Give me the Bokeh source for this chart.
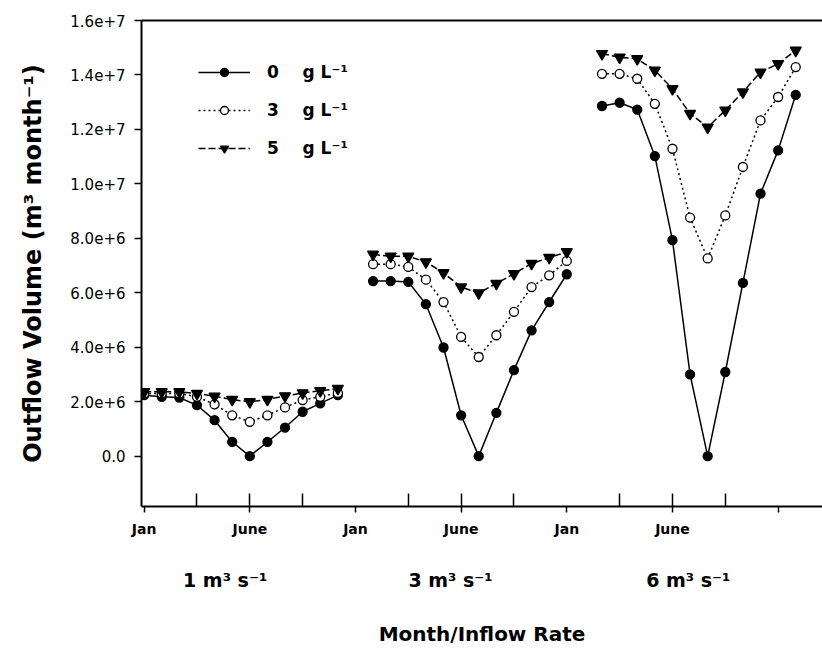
from bokeh.plotting import figure
from bokeh.models import LinearAxis, FixedTicker, Range1d, Legend, LegendItem
from bokeh.embed import file_html
from bokeh.resources import INLINE

# ---- data ----
months = list(range(12))
group_start = [0, 13, 26]
group_names = ["1 m³ s⁻¹", "3 m³ s⁻¹", "6 m³ s⁻¹"]
group_label_x = [4.6, 17.4, 30.9]

month_ticks = [0, 6, 12, 18, 24, 30, 36]
month_labels = ["Jan", "June", "Jan", "June", "Jan", "June", ""]
minor_ticks = [3, 6, 9, 15, 18, 21, 27, 30, 33]

y_ticks = [0, 2e6, 4e6, 6e6, 8e6, 1e7, 1.2e7, 1.4e7, 1.6e7]
y_labels = ["0.0", "2.0e+6", "4.0e+6", "6.0e+6", "8.0e+6",
            "1.0e+7", "1.2e+7", "1.4e+7", "1.6e+7"]

# Outflow volume, m3 month-1 (x 1e6)
s0_g1 = [2.24, 2.18, 2.15, 1.87, 1.32, 0.52, 0.0, 0.52, 1.05, 1.63, 1.94, 2.24]
s0_g2 = [6.43, 6.43, 6.40, 5.58, 3.99, 1.50, 0.0, 1.59, 3.16, 4.62, 5.66, 6.68]
s0_g3 = [12.86, 12.98, 12.73, 11.02, 7.93, 3.00, 0.0, 3.09, 6.36, 9.64, 11.23, 13.27]

s3_g1 = [2.30, 2.30, 2.30, 2.18, 1.90, 1.50, 1.26, 1.50, 1.79, 2.06, 2.18, 2.32]
s3_g2 = [7.05, 7.05, 6.95, 6.48, 5.66, 4.38, 3.64, 4.44, 5.30, 6.21, 6.64, 7.17]
s3_g3 = [14.04, 14.04, 13.86, 12.94, 11.29, 8.76, 7.26, 8.84, 10.62, 12.33, 13.19, 14.29]

s5_g1 = [2.36, 2.36, 2.36, 2.30, 2.20, 2.08, 1.99, 2.08, 2.21, 2.32, 2.40, 2.48]
s5_g2 = [7.41, 7.34, 7.34, 7.13, 6.73, 6.21, 5.99, 6.34, 6.70, 7.07, 7.29, 7.50]
s5_g3 = [14.78, 14.65, 14.59, 14.17, 13.49, 12.58, 12.08, 12.70, 13.37, 14.10, 14.41, 14.90]

series_names = ["0", "3", "5"]
series_values = [[s0_g1, s0_g2, s0_g3], [s3_g1, s3_g2, s3_g3], [s5_g1, s5_g2, s5_g3]]

# ---- figure ----
p = figure(width=822, height=650,
           x_range=Range1d(-0.15, 38.52), y_range=Range1d(-1.85e6, 1.6e7),
           output_backend="svg", toolbar_location=None,
           x_axis_location=None, y_axis_location=None,
           min_border_left=141, min_border_right=0,
           min_border_top=20, min_border_bottom=144)
p.outline_line_color = None
p.xgrid.visible = False
p.ygrid.visible = False
p.background_fill_color = "white"
p.border_fill_color = "white"

FONT = "DejaVu Sans"

# y axis
yax = LinearAxis(ticker=FixedTicker(ticks=y_ticks, minor_ticks=[]))
yax.major_label_overrides = {t: l for t, l in zip(y_ticks, y_labels)}
yax.axis_line_width = 2
yax.major_tick_line_width = 1.5
yax.major_tick_out = 7
yax.major_tick_in = 0
yax.major_label_standoff = 9
yax.major_label_text_font = FONT
yax.major_label_text_font_size = "15px"
yax.major_label_text_color = "black"
yax.axis_label = "Outflow Volume (m³ month⁻¹)"
yax.axis_label_text_font = FONT
yax.axis_label_text_font_style = "bold"
yax.axis_label_text_font_size = "24px"
yax.axis_label_text_color = "black"
yax.axis_label_standoff = 20
p.add_layout(yax, "left")

# x axis with month ticks
xax = LinearAxis(ticker=FixedTicker(ticks=month_ticks, minor_ticks=minor_ticks))
xax.major_label_overrides = {t: l for t, l in zip(month_ticks, month_labels)}
xax.axis_line_width = 2
xax.major_tick_line_width = 1.5
xax.minor_tick_line_width = 1.5
xax.major_tick_out = 6
xax.major_tick_in = 0
xax.minor_tick_out = 0
xax.minor_tick_in = 13
xax.major_label_standoff = 8
xax.major_label_text_font = FONT
xax.major_label_text_font_style = "bold"
xax.major_label_text_font_size = "14px"
xax.major_label_text_color = "black"
p.add_layout(xax, "below")

# inflow-rate group labels axis
gax = LinearAxis(ticker=FixedTicker(ticks=group_label_x, minor_ticks=[]))
gax.major_label_overrides = {t: l for t, l in zip(group_label_x, group_names)}
gax.axis_line_color = None
gax.major_tick_line_color = None
gax.minor_tick_line_color = None
gax.major_label_standoff = 23
gax.major_label_text_font = FONT
gax.major_label_text_font_style = "bold"
gax.major_label_text_font_size = "19px"
gax.major_label_text_color = "black"
gax.axis_label = "Month/Inflow Rate"
gax.axis_label_text_font = FONT
gax.axis_label_text_font_style = "bold"
gax.axis_label_text_font_size = "20px"
gax.axis_label_text_color = "black"
gax.axis_label_standoff = 28
p.add_layout(gax, "below")

# top frame line
tax = LinearAxis(ticker=FixedTicker(ticks=[], minor_ticks=[]))
tax.axis_line_width = 2
tax.major_label_text_font_size = "0px"
tax.major_tick_line_color = None
tax.minor_tick_line_color = None
p.add_layout(tax, "above")

# ---- series ----
line_dash = ["solid", "2 3", "7 3"]
markers = ["circle", "circle", "inverted_triangle"]
fills = ["black", "white", "black"]
sizes = [9, 9, 11]

legend_items = []
for si, name in enumerate(series_names):
    first = None
    for gi, vals in enumerate(series_values[si]):
        xs = [group_start[gi] + m for m in months]
        ys = [v * 1e6 for v in vals]
        lr = p.line(xs, ys, line_color="black", line_width=1.5,
                    line_dash=line_dash[si])
        mr = p.scatter(xs, ys, marker=markers[si], size=sizes[si],
                       fill_color=fills[si], line_color="black", line_width=1.3)
        if first is None:
            first = [lr, mr]
    nb = "\u00a0" * 4
    legend_items.append(LegendItem(label=f"{name}{nb}g L⁻¹", renderers=first))

legend = Legend(items=legend_items, location=(57, 348))
legend.glyph_width = 52
legend.glyph_height = 20
legend.label_height = 20
legend.spacing = 18
legend.padding = 0
legend.margin = 0
legend.label_standoff = 17
legend.border_line_color = None
legend.background_fill_alpha = 0
legend.label_text_font = FONT
legend.label_text_font_style = "bold"
legend.label_text_font_size = "17px"
legend.label_text_color = "black"
p.add_layout(legend, "center")

open("out.html", "w").write(file_html(p, INLINE))
